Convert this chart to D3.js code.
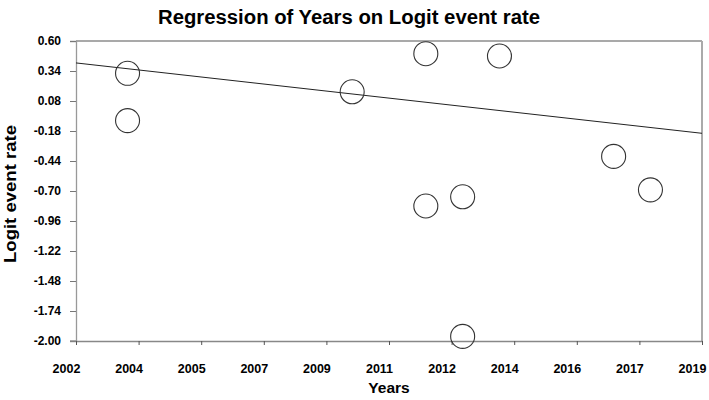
<!DOCTYPE html>
<html>
<head>
<meta charset="utf-8">
<script src="https://cdn.jsdelivr.net/npm/d3@7"></script>
<style>
  body { margin: 0; background: #fff; }
  svg { display: block; font-family: "Liberation Sans", Arial, sans-serif; }
</style>
</head>
<body>
<svg id="chart" width="709" height="400"></svg>
<script>
// ---- data ----
const years = [2003.4, 2003.4, 2009.5, 2011.5, 2011.5, 2012.5, 2012.5, 2013.5, 2016.6, 2017.6];
const logitRates = [0.32, -0.09, 0.16, 0.49, -0.83, -0.75, -1.96, 0.47, -0.40, -0.69];
const regressionYears = [2002, 2019];
const regressionFit = [0.41, -0.20];
const xTickValues = [2002, 2003.7, 2005.4, 2007.1, 2008.8, 2010.5, 2012.2, 2013.9, 2015.6, 2017.3, 2019];
const xTickLabels = ["2002", "2004", "2005", "2007", "2009", "2011", "2012", "2014", "2016", "2017", "2019"];
const yTickValues = [0.60, 0.34, 0.08, -0.18, -0.44, -0.70, -0.96, -1.22, -1.48, -1.74, -2.00];
const yTickLabels = ["0.60", "0.34", "0.08", "-0.18", "-0.44", "-0.70", "-0.96", "-1.22", "-1.48", "-1.74", "-2.00"];

// ---- layout ----
const svg = d3.select("#chart");
const plotL = 76, plotR = 702, plotT = 41, plotB = 341;

const x = d3.scaleLinear().domain([2002, 2019]).range([plotL, plotR]);
const y = d3.scaleLinear().domain([-2.0, 0.6]).range([plotB, plotT]);

// title
svg.append("text")
  .attr("x", 349).attr("y", 24)
  .attr("text-anchor", "middle")
  .attr("font-size", 19.5).attr("font-weight", "bold")
  .attr("textLength", 382).attr("lengthAdjust", "spacingAndGlyphs")
  .attr("fill", "#000")
  .text("Regression of Years on Logit event rate");

// frame: top and right
svg.append("line").attr("x1", plotL).attr("x2", plotR).attr("y1", plotT).attr("y2", plotT)
  .attr("stroke", "#555").attr("stroke-width", 1.2);
svg.append("line").attr("x1", plotR).attr("x2", plotR).attr("y1", plotT).attr("y2", plotB)
  .attr("stroke", "#aaa").attr("stroke-width", 2);

// y axis
const yAxis = d3.axisLeft(y)
  .tickValues(yTickValues)
  .tickSize(6)
  .tickPadding(9)
  .tickFormat((d, i) => yTickLabels[i]);
const gy = svg.append("g").attr("transform", `translate(${plotL},0)`).call(yAxis);
gy.select(".domain").attr("stroke", "#999").attr("stroke-width", 1.3);
gy.selectAll(".tick line").attr("stroke", "#777");
gy.selectAll(".tick text")
  .attr("font-size", 12).attr("font-weight", "bold")
  .attr("font-family", "Liberation Sans, Arial, sans-serif")
  .attr("fill", "#000");

// x axis
const xAxis = d3.axisBottom(x)
  .tickValues(xTickValues)
  .tickSize(4)
  .tickSizeOuter(0)
  .tickPadding(19)
  .tickFormat((d, i) => xTickLabels[i]);
const gx = svg.append("g").attr("transform", `translate(0,${plotB})`).call(xAxis);
gx.select(".domain").attr("stroke", "#888").attr("stroke-width", 1.3);
gx.selectAll(".tick line").attr("stroke", "#555");
gx.selectAll(".tick text")
  .attr("dx", -10)
  .attr("font-size", 12.5).attr("font-weight", "bold")
  .attr("font-family", "Liberation Sans, Arial, sans-serif")
  .attr("fill", "#000");
svg.append("line").attr("x1", plotL - 6).attr("x2", plotL).attr("y1", plotB).attr("y2", plotB)
  .attr("stroke", "#888").attr("stroke-width", 1.3);

// regression line
const line = d3.line().x(d => x(d[0])).y(d => y(d[1]));
svg.append("path")
  .datum(regressionYears.map((yr, i) => [yr, regressionFit[i]]))
  .attr("d", line)
  .attr("fill", "none").attr("stroke", "#222").attr("stroke-width", 1);

// points
svg.append("g").selectAll("circle")
  .data(years.map((yr, i) => [yr, logitRates[i]]))
  .join("circle")
  .attr("cx", d => x(d[0])).attr("cy", d => y(d[1]))
  .attr("r", 12)
  .attr("fill", "none").attr("stroke", "#333").attr("stroke-width", 1.1);

// axis titles
svg.append("text")
  .attr("x", 389).attr("y", 393)
  .attr("text-anchor", "middle")
  .attr("font-size", 15.5).attr("font-weight", "bold")
  .text("Years");

svg.append("text")
  .attr("transform", "translate(16,194) rotate(-90)")
  .attr("text-anchor", "middle")
  .attr("font-size", 16.5).attr("font-weight", "bold")
  .attr("textLength", 138).attr("lengthAdjust", "spacingAndGlyphs")
  .text("Logit event rate");
</script>
</body>
</html>
